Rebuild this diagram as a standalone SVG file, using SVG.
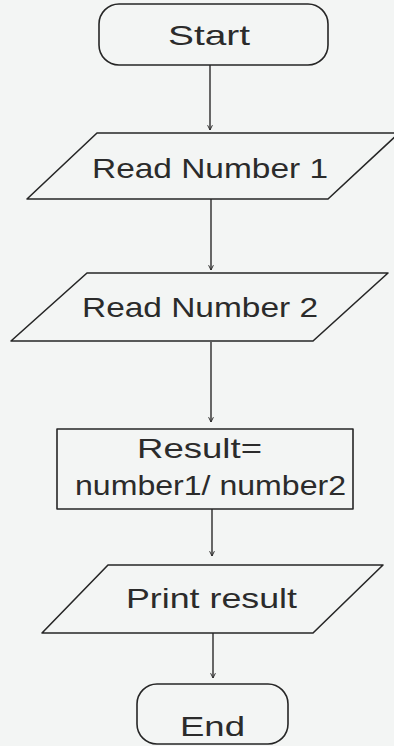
<svg xmlns="http://www.w3.org/2000/svg" width="394" height="746" viewBox="0 0 394 746">
  <style>
    .shape { fill: none; stroke: #262626; stroke-width: 1.6; stroke-linejoin: round; }
    .label { font-family: "Liberation Sans", Arial, sans-serif; font-size: 28px; fill: #2b2b2b; }
    .flow { stroke: #2a2a2a; stroke-width: 1.4; fill: none; marker-end: url(#head); }
  </style>
  <defs>
    <marker id="head" viewBox="0 0 10 10" refX="9" refY="5" markerWidth="6" markerHeight="7" markerUnits="userSpaceOnUse" orient="auto">
      <path d="M1,1 L9,5 L1,9" fill="none" stroke="#2a2a2a" stroke-width="1.6"/>
    </marker>
  </defs>
  <rect width="394" height="746" fill="#f3f5f4"/>

  <g id="connectors">
    <line class="flow" x1="210" y1="65" x2="210" y2="130"/>
    <line class="flow" x1="211" y1="199" x2="211" y2="270"/>
    <line class="flow" x1="211" y1="342" x2="211" y2="422"/>
    <line class="flow" x1="212" y1="509" x2="212" y2="556"/>
    <line class="flow" x1="213" y1="633" x2="213" y2="678"/>
  </g>

  <g id="start">
    <rect class="shape" x="99" y="4" width="229" height="61" rx="20" ry="20"/>
    <text class="label" x="168" y="45" textLength="82" lengthAdjust="spacingAndGlyphs">Start</text>
  </g>

  <g id="read1">
    <polygon class="shape" points="97,133 399,133 328,199 27,199"/>
    <text class="label" x="92" y="178" textLength="236" lengthAdjust="spacingAndGlyphs">Read Number 1</text>
  </g>

  <g id="read2">
    <polygon class="shape" points="87,273 388,273 313,341 11,341"/>
    <text class="label" x="82" y="317" textLength="236" lengthAdjust="spacingAndGlyphs">Read Number 2</text>
  </g>

  <g id="compute">
    <rect class="shape" x="57" y="429" width="296" height="80"/>
    <text class="label" x="137" y="458" textLength="125" lengthAdjust="spacingAndGlyphs">Result=</text>
    <text class="label" x="75" y="495" textLength="271" lengthAdjust="spacingAndGlyphs">number1/ number2</text>
  </g>

  <g id="print">
    <polygon class="shape" points="108,565 383,565 313,633 42,633"/>
    <text class="label" x="126" y="608" textLength="171" lengthAdjust="spacingAndGlyphs">Print result</text>
  </g>

  <g id="end">
    <rect class="shape" x="137" y="684" width="151" height="60" rx="20" ry="20"/>
    <text class="label" x="180" y="736" textLength="65" lengthAdjust="spacingAndGlyphs">End</text>
  </g>
</svg>
